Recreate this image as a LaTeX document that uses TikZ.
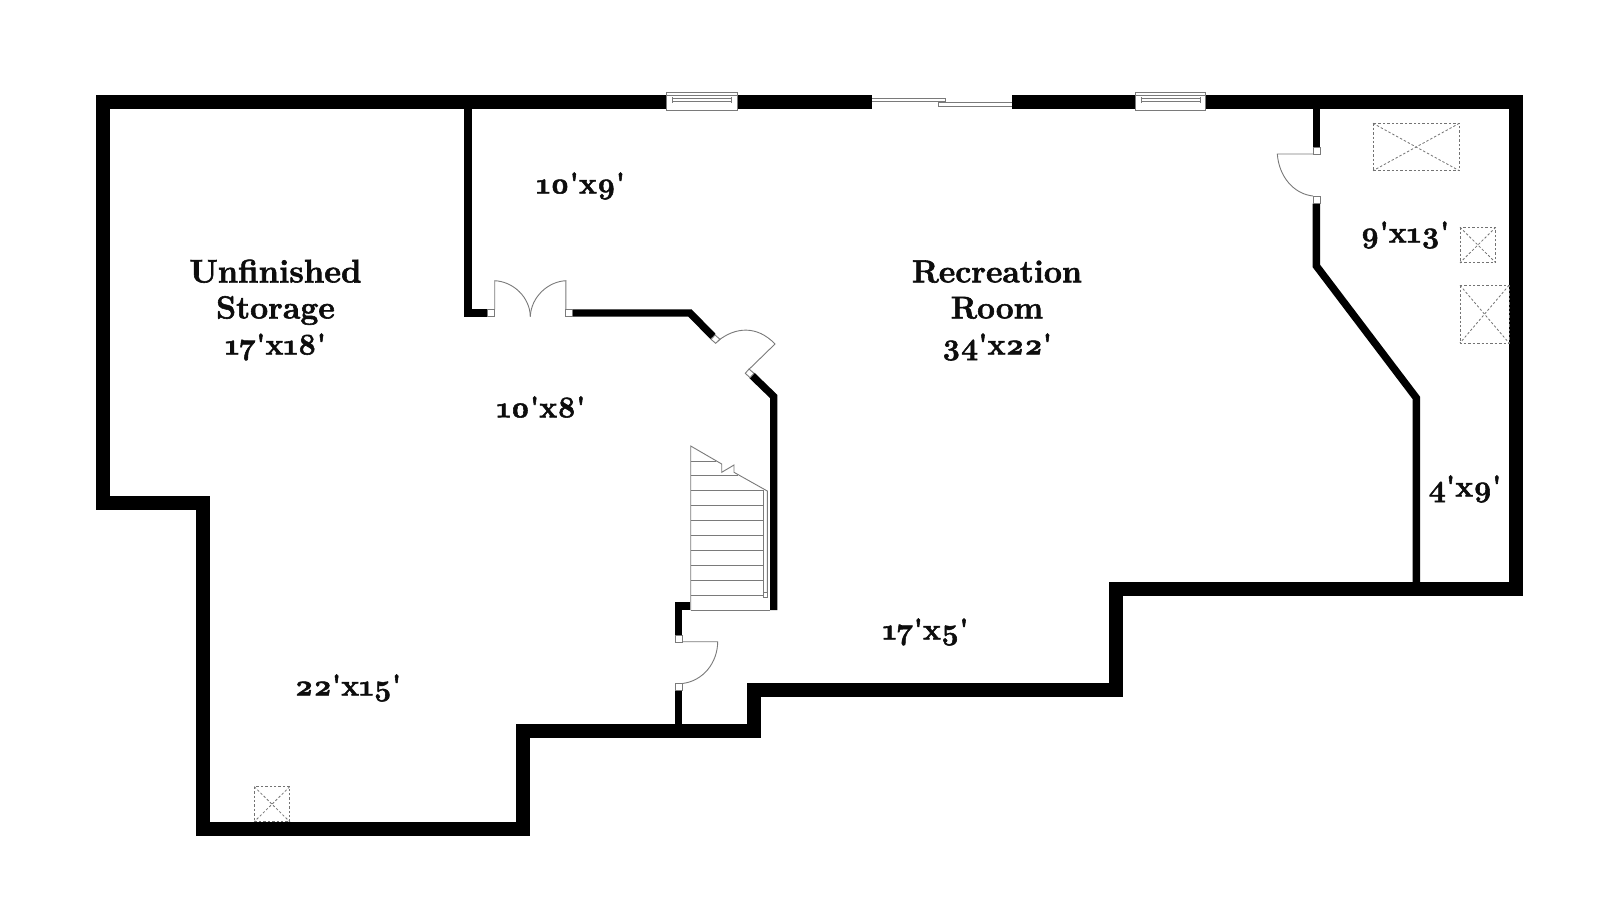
\documentclass[tikz,border=0pt]{standalone}
\usepackage{fontspec}
\newfontfamily\roomfont[Numbers=OldStyle,BoldFeatures={FakeBold=1.8}]{Latin Modern Roman}
\newcommand{\bigword}[2][32]{{\fontsize{#1}{36}\selectfont #2}}
\tikzset{
  x=1pt,y=-1pt,
  outerwall/.style={draw=black,line width=14pt,line join=miter,miter limit=10},
  innerwall/.style={draw=black,line width=7.4pt,line join=miter,miter limit=10},
  thin line/.style={draw=black!52,line width=0.9pt},
  jamb/.style={draw=black!52,line width=0.9pt,fill=white},
  dash box/.style={draw=black!55,line width=0.8pt,dash pattern=on 2.4pt off 2pt},
  room label/.style={font=\roomfont\bfseries\fontsize{30}{36}\selectfont,text=black!95,inner sep=0pt,align=center}
}
\begin{document}
\begin{tikzpicture}
\useasboundingbox (0,0) rectangle (1600,914);
\fill[white] (0,0) rectangle (1600,914);
% interior walls
\draw[innerwall] (468,105) -- (468,313) -- (488,313);
\draw[innerwall] (572.7,313) -- (690,313) -- (713,336.5);
\draw[innerwall] (752,375.5) -- (773.7,396.5) -- (773.7,610);
\draw[innerwall] (690,606) -- (678.7,606) -- (678.7,635);
\draw[innerwall] (678.7,690.7) -- (678.7,730);
\draw[innerwall] (1316.4,105) -- (1316.4,147.5);
\draw[innerwall] (1316.4,203.5) -- (1316.4,266) -- (1416.4,398) -- (1416.4,585);
% outer wall
\draw[outerwall] (103,102.2) -- (1516.3,102.2) -- (1516.3,588.5) -- (1116.3,588.5) -- (1116.3,690) -- (754,690) -- (754,730.5) -- (523,730.5) -- (523,829) -- (203,829) -- (203,503) -- (103,503) -- cycle;
% windows
\foreach \xa/\xb/\xc/\xd in {666.7/737.3/672.3/731.7,1135.4/1205.3/1141/1200.4}{
  \draw[thin line,fill=white] (\xa,92.7) rectangle (\xb,110);
  \draw[thin line] (\xa,95) -- (\xb,95);
  \draw[thin line] (\xc,97) -- (\xc,102.5);
  \draw[thin line] (\xd,97) -- (\xd,102.5);
  \draw[thin line] (\xc,98.7) -- (\xd,98.7);
  \draw[thin line] (\xc,101.8) -- (\xd,101.8);
}
% sliding door
\fill[white] (872,94.5) rectangle (1012,110);
\draw[thin line] (872,98) -- (945.7,98) -- (945.7,101.8) -- (872,101.8);
\draw[thin line] (1012,102.3) -- (938.3,102.3) -- (938.3,106) -- (1012,106);
% double door
\draw[jamb] (487.7,309.3) rectangle (494.7,316.7);
\draw[jamb] (565.7,309.3) rectangle (572.7,316.7);
\draw[thin line] (494.7,309.3) -- (494.7,280.7) .. controls (513,281.5) and (530,297) .. (530.3,316.7);
\draw[thin line] (565.9,309.3) -- (565.9,280.7) .. controls (548,281.5) and (531,297) .. (530.3,316.7);
% diagonal door
\draw[jamb] (715,335) -- (720,339.3) -- (715.7,343.3) -- (711,339.3) -- cycle;
\draw[jamb] (749,369) -- (754,373.3) -- (750,377.7) -- (745.3,373.3) -- cycle;
\draw[thin line] (717.8,341) .. controls (735,327) and (757,325) .. (775,344) -- (749,369.3);
% closet door right
\draw[jamb] (1313,147.3) rectangle (1320,154.3);
\draw[jamb] (1313,196) rectangle (1320,203.5);
\draw[thin line] (1313,154) -- (1277.3,154) .. controls (1279,177) and (1294,194) .. (1313,196);
% lower door
\draw[jamb] (675,635) rectangle (682.3,642);
\draw[jamb] (675,683.7) rectangle (682.3,690.7);
\draw[thin line] (682.3,641.7) -- (717.7,641.7) .. controls (717.5,663) and (703,681) .. (682.3,683.5);
% stairs
\draw[thin line] (690.7,610) -- (690.7,446) -- (721.7,464) -- (721.7,472.3) -- (734,465) -- (734,472.3) -- (767.3,491) -- (767.3,592.7);
\draw[thin line] (763.7,491) -- (763.7,592.7);
\draw[thin line] (690.7,461) -- (716,461);
\draw[thin line] (690.7,475.7) -- (738,475.7);
\foreach \ty in {490.7,505.7,520.3,535.3,550.3,565.3,580.3,595}{
  \draw[thin line] (690.7,\ty) -- (763.7,\ty);
}
\draw[thin line] (690.7,610) -- (770,610);
\draw[jamb] (763,592.7) rectangle (767.5,597.5);
% dashed boxes
\foreach \xa/\ya/\xb/\yb in {1373/123.3/1459.3/170.7,1460/227.3/1495.7/262.7,1460/285.3/1509/343,254.3/786.7/289.7/821.7}{
  \draw[dash box] (\xa,\ya) rectangle (\xb,\yb);
  \draw[dash box] (\xa,\ya) -- (\xb,\yb);
  \draw[dash box] (\xb,\ya) -- (\xa,\yb);
}
% labels
\node[room label] (unf) at (275.5,310) {\bigword[32.7]{Unfinished}\\\bigword{Storage}\\17'x18'};
\node[room label] (rec) at (997,310.5) {\bigword{Recreation}\\\bigword[31.5]{Room}\\34'x22'};
\node[room label] (a) at (580.6,186) {10'x9'};
\node[room label] (b) at (1405,235) {9'x13'};
\node[room label] (c) at (541,407) {10'x8'};
\node[room label] (d) at (1465,489) {4'x9'};
\node[room label] (e) at (925.5,632) {17'x5'};
\node[room label] (f) at (348,688) {22'x15'};
\end{tikzpicture}
\end{document}
